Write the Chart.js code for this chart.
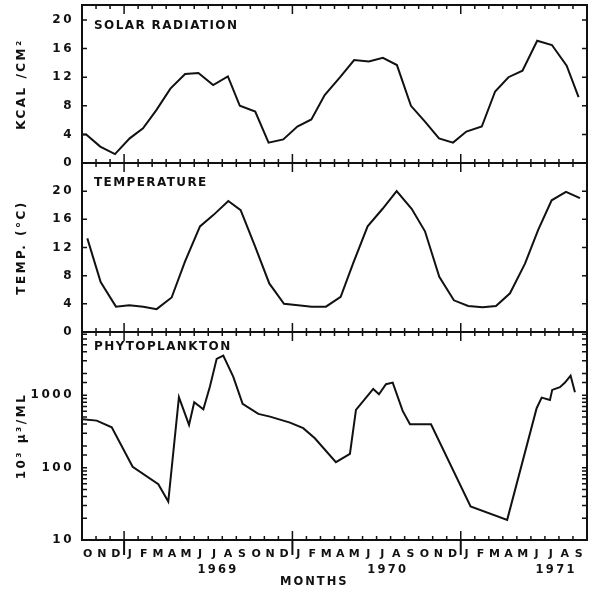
<!DOCTYPE html>
<html>
<head>
<meta charset="utf-8">
<script src="https://cdn.jsdelivr.net/npm/chart.js@4.4.0/dist/chart.umd.min.js"></script>
<style>
	html, body { margin: 0; padding: 0; background: #fff; }
	#wrap { width: 596px; height: 589px; }
</style>
</head>
<body>
<div id="wrap"><canvas id="chart" width="596" height="589"></canvas></div>
<script>
// months since 1 Oct 1968
var monthLetters = ['O', 'N', 'D',
	'J', 'F', 'M', 'A', 'M', 'J', 'J', 'A', 'S', 'O', 'N', 'D',
	'J', 'F', 'M', 'A', 'M', 'J', 'J', 'A', 'S', 'O', 'N', 'D',
	'J', 'F', 'M', 'A', 'M', 'J', 'J', 'A', 'S']
var yearLabels = ['1969', '1970', '1971']
var yearLabelMonth = [9.7, 21.8, 33.8]
var yearStartMonth = [3, 15, 27]

// solar radiation, kcal/cm2
var solarMonth = [0, 0.3, 1.3, 2.35, 3.4, 4.35, 5.3, 6.3, 7.35, 8.3, 9.35, 10.4, 11.25, 12.35, 13.3, 14.35,
	15.35, 16.35, 17.3, 18.4, 19.4, 20.45, 21.45, 22.45, 23.45, 24.45, 25.45, 26.45,
	27.4, 28.5, 29.45, 30.4, 31.4, 32.45, 33.5, 34.55, 35.4]
var solarValue = [4.0, 4.0, 2.3, 1.25, 3.45, 4.85, 7.4, 10.4, 12.45, 12.6, 10.9, 12.1, 8.0, 7.2, 2.85, 3.3,
	5.1, 6.1, 9.5, 12.0, 14.4, 14.2, 14.7, 13.7, 8.0, 5.8, 3.45, 2.85,
	4.4, 5.1, 10.0, 12.0, 12.9, 17.1, 16.5, 13.6, 9.2]

// temperature, deg C
var tempMonth = [0.38, 1.33, 2.42, 3.37, 4.37, 5.32, 6.39, 7.34, 8.41, 9.36, 10.43, 11.31, 12.33, 13.35, 14.4,
	15.4, 16.37, 17.39, 18.44, 19.32, 20.36, 21.43, 22.43, 23.5, 24.45, 25.47, 26.51,
	27.53, 28.56, 29.51, 30.51, 31.58, 32.52, 33.48, 34.5, 35.5]
var tempValue = [13.3, 7.1, 3.6, 3.8, 3.6, 3.25, 4.9, 10.0, 15.0, 16.6, 18.6, 17.3, 12.2, 6.9, 4.0,
	3.8, 3.6, 3.6, 5.0, 9.7, 15.0, 17.5, 20.0, 17.5, 14.3, 7.85, 4.5,
	3.7, 3.5, 3.7, 5.5, 9.7, 14.5, 18.7, 19.9, 19.0]

// phytoplankton, 10^3 u^3/ml
var phytoMonth = [0.05, 1.05, 2.12, 3.61, 5.44, 6.15, 6.91, 7.63, 8.0, 8.65, 9.12, 9.6, 10.07, 10.78, 11.45,
	12.57, 13.4, 14.83, 15.77, 16.6, 18.1, 19.1, 19.53, 20.76, 21.17, 21.67, 22.15, 22.86, 23.38, 24.88,
	27.7, 30.31, 32.41, 32.77, 33.36, 33.52, 34.07, 34.43, 34.83, 35.14]
var phytoValue = [467, 447, 362, 103, 59, 34, 940, 390, 800, 640, 1320, 3190, 3540, 1815, 760,
	553, 507, 419, 351, 255, 119, 155, 628, 1225, 1035, 1423, 1500, 608, 398, 398,
	29, 19, 663, 929, 863, 1188, 1295, 1500, 1872, 1104]

var panelIds = ['y1', 'y2', 'y3']
var panelNames = ['SOLAR RADIATION', 'TEMPERATURE', 'PHYTOPLANKTON']
var panelNameDrop = [21, 20, 15]

var ink = '#111'
var fontFamily = 'DejaVu Sans'

function toPoints (xs, ys) {
	return xs.map((x, i) => ({ x: x, y: ys[i] }))
}

// fixed box sizes, no overflow padding from the labels
function fitLeft (scale) {
	scale.width = 82
	scale.paddingTop = 0
	scale.paddingBottom = 0
}

function tickFont (size) {
	return { family: fontFamily, size: size, weight: 'bold' }
}

function linearPanel (max, weight, stackWeight, title) {
	return {
		type: 'linear',
		position: 'left',
		stack: 'panels',
		stackWeight: stackWeight,
		weight: weight,
		min: 0,
		max: max,
		afterFit: fitLeft,
		grid: { display: false, drawTicks: false },
		border: { display: false },
		ticks: {
			stepSize: 4,
			autoSkip: false,
			includeBounds: false,
			padding: 8,
			color: ink,
			font: tickFont(12),
			callback: value => value <= 20 ? value : ''
		},
		title: { display: true, text: title, color: ink, font: tickFont(12), padding: { top: 15, bottom: 0 } }
	}
}

// frame, inward ticks and hand lettering
var decorations = {
	id: 'decorations',
	beforeDraw: function (chart) {
		chart.ctx.letterSpacing = '2.5px'
	},
	afterDraw: function (chart) {
		var ctx = chart.ctx
		var area = chart.chartArea
		var xs = chart.scales.x
		ctx.save()
		ctx.strokeStyle = ink
		ctx.fillStyle = ink

		panelIds.forEach((id, p) => {
			var s = chart.scales[id]
			ctx.lineWidth = 2
			ctx.strokeRect(area.left, s.top, area.right - area.left, s.bottom - s.top)

			ctx.lineWidth = 1.5
			ctx.beginPath()
			for (var m = 1; m < monthLetters.length; m++) {
				var x = xs.getPixelForValue(m)
				var len = yearStartMonth.indexOf(m) >= 0 ? 9 : 4
				ctx.moveTo(x, s.top)
				ctx.lineTo(x, s.top + len)
				ctx.moveTo(x, s.bottom)
				ctx.lineTo(x, s.bottom - len)
			}
			s.ticks.forEach(t => {
				if (t.value <= s.min || t.value >= s.max) return
				var y = s.getPixelForValue(t.value)
				ctx.moveTo(area.left, y)
				ctx.lineTo(area.left + 5, y)
				ctx.moveTo(area.right, y)
				ctx.lineTo(area.right - 5, y)
			})
			ctx.stroke()

			ctx.letterSpacing = '1.4px'
			ctx.font = 'bold 12px ' + fontFamily
			ctx.textAlign = 'left'
			ctx.textBaseline = 'middle'
			ctx.fillText(panelNames[p], area.left + 12, s.top + panelNameDrop[p])
		})

		// year dividers under the axis
		ctx.lineWidth = 2
		ctx.beginPath()
		yearStartMonth.forEach(m => {
			var x = xs.getPixelForValue(m)
			ctx.moveTo(x, area.bottom)
			ctx.lineTo(x, area.bottom + 15)
		})
		ctx.stroke()

		ctx.letterSpacing = '2.3px'
		ctx.font = 'bold 11.5px ' + fontFamily
		ctx.textAlign = 'center'
		yearLabels.forEach((label, i) => {
			ctx.fillText(label, xs.getPixelForValue(yearLabelMonth[i]), area.bottom + 30)
		})
		ctx.letterSpacing = '2px'
		ctx.fillText('MONTHS', area.left + (area.right - area.left) * 0.46, area.bottom + 42)
		ctx.restore()
	}
}

var lineStyle = {
	borderColor: ink,
	borderWidth: 2,
	pointRadius: 0,
	tension: 0,
	fill: false
}

var chart = new Chart(document.getElementById('chart').getContext('2d'), {
	type: 'line',
	data: {
		datasets: [
			Object.assign({ label: 'Solar radiation', data: toPoints(solarMonth, solarValue), yAxisID: 'y1' }, lineStyle),
			Object.assign({ label: 'Temperature', data: toPoints(tempMonth, tempValue), yAxisID: 'y2' }, lineStyle),
			Object.assign({ label: 'Phytoplankton', data: toPoints(phytoMonth, phytoValue), yAxisID: 'y3' }, lineStyle)
		]
	},
	options: {
		responsive: false,
		animation: false,
		devicePixelRatio: 1,
		layout: { padding: { top: 5, right: 9, bottom: 0, left: 0 } },
		plugins: {
			legend: { display: false },
			tooltip: { enabled: false }
		},
		scales: {
			x: {
				type: 'linear',
				min: 0,
				max: 36,
				afterBuildTicks: function (scale) {
					scale.ticks = monthLetters.map((m, i) => ({ value: i + 0.5 }))
				},
				afterFit: function (scale) {
					scale.height = 49
					scale.paddingLeft = 0
					scale.paddingRight = 0
				},
				grid: { display: false, drawTicks: false },
				border: { display: false },
				ticks: {
					autoSkip: false,
					maxRotation: 0,
					minRotation: 0,
					padding: 8,
					color: ink,
					font: tickFont(11),
					callback: value => monthLetters[Math.floor(value)]
				}
			},
			y1: linearPanel(22.1, 3, 158, 'KCAL /CM²'),
			y2: linearPanel(24, 2, 169, 'TEMP. (°C)'),
			y3: {
				type: 'logarithmic',
				position: 'left',
				stack: 'panels',
				stackWeight: 208,
				weight: 1,
				min: 10,
				max: 7500,
				afterFit: fitLeft,
				grid: { display: false, drawTicks: false },
				border: { display: false },
				ticks: {
					autoSkip: false,
					padding: 8,
					color: ink,
					font: tickFont(12),
					callback: value => [10, 100, 1000].indexOf(value) >= 0 ? value : ''
				},
				title: { display: true, text: '10³ μ³/ML', color: ink, font: tickFont(12), padding: { top: 15, bottom: 0 } }
			}
		}
	},
	plugins: [decorations]
})
</script>
</body>
</html>
